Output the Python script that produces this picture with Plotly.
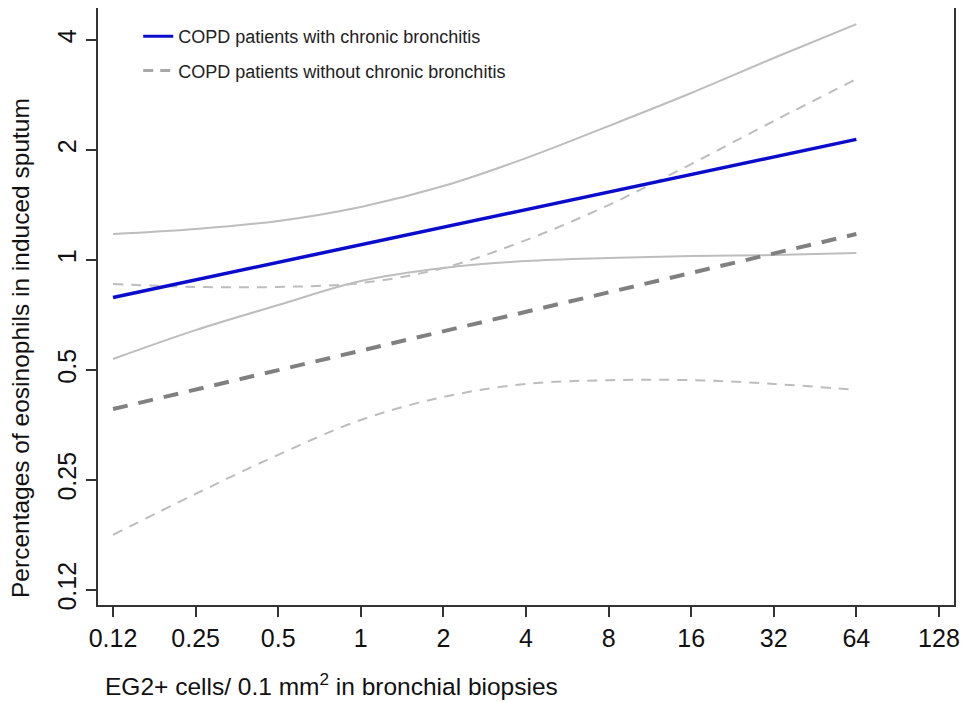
import plotly.graph_objects as go

# EG2+ cells / 0.1 mm2 (x positions of the fitted curves)
x_cells = [0.125, 0.25, 0.5, 1, 2, 4, 8, 16, 32, 64]

# COPD with chronic bronchitis: fit and 95% CI
cb_fit = [0.79, 0.883, 0.986, 1.101, 1.230, 1.374, 1.535, 1.714, 1.915, 2.139]
cb_upper = [1.178, 1.216, 1.279, 1.397, 1.594, 1.901, 2.326, 2.864, 3.571, 4.423]
cb_lower = [0.536, 0.643, 0.753, 0.876, 0.951, 0.994, 1.013, 1.025, 1.032, 1.045]

# COPD without chronic bronchitis: fit and 95% CI
ncb_fit = [0.391, 0.442, 0.499, 0.565, 0.638, 0.721, 0.816, 0.922, 1.042, 1.178]
ncb_upper = [0.860, 0.844, 0.844, 0.865, 0.951, 1.134, 1.414, 1.831, 2.401, 3.128]
ncb_lower = [0.177, 0.229, 0.293, 0.365, 0.422, 0.458, 0.469, 0.469, 0.458, 0.441]

x_tickvals = [0.125, 0.25, 0.5, 1, 2, 4, 8, 16, 32, 64, 128]
x_ticktext = ["0.12", "0.25", "0.5", "1", "2", "4", "8", "16", "32", "64", "128"]
y_tickvals = [0.125, 0.25, 0.5, 1, 2, 4]
y_ticktext = ["0.12", "0.25", "0.5", "1", "2", "4"]

legend_names = ["COPD patients with chronic bronchitis",
                "COPD patients without chronic bronchitis"]
x_title = "EG2+ cells/ 0.1 mm<sup>2</sup> in bronchial biopsies"
y_title = "Percentages of eosinophils in induced sputum"

LIGHT = "#bdbdbd"
DARK = "#808080"
BLUE = "#0b0bcc"
FONT = "Liberation Sans, Arial"

fig = go.Figure()

for arr in (ncb_upper, ncb_lower):
    fig.add_trace(go.Scatter(x=x_cells, y=arr, mode="lines", showlegend=False,
                             line=dict(color=LIGHT, width=2, dash="10px,8px", shape="spline")))
for arr in (cb_upper, cb_lower):
    fig.add_trace(go.Scatter(x=x_cells, y=arr, mode="lines", showlegend=False,
                             line=dict(color=LIGHT, width=2, shape="spline")))

fig.add_trace(go.Scatter(x=x_cells, y=ncb_fit, mode="lines", showlegend=False,
                         line=dict(color=DARK, width=4, dash="15px,11px")))
fig.add_trace(go.Scatter(x=x_cells, y=cb_fit, mode="lines", showlegend=False,
                         line=dict(color=BLUE, width=3.5)))

# legend entries
fig.add_trace(go.Scatter(x=[None], y=[None], mode="lines", name=legend_names[0],
                         legendgroup="a", line=dict(color=BLUE, width=3)))
fig.add_trace(go.Scatter(x=[None], y=[None], mode="lines", name=legend_names[1],
                         legendgroup="b", line=dict(color="#a8a8a8", width=3, dash="10px,7px")))

axis_common = dict(
    type="log", showgrid=False, zeroline=False, showline=True, mirror=True,
    linecolor="#333333", linewidth=1.5, ticks="outside", ticklen=10,
    tickcolor="#333333", tickwidth=1.5, automargin=False,
    tickfont=dict(family=FONT, size=25, color="#111111"),
)

fig.update_xaxes(**axis_common, range=[-0.9578, 2.162],
                 tickvals=x_tickvals, ticktext=x_ticktext)
fig.update_yaxes(**axis_common, range=[-0.9441, 0.6897],
                 tickvals=y_tickvals, ticktext=y_ticktext, tickangle=-90)

fig.add_annotation(text=x_title, xref="paper", yref="paper", x=0.006, y=0,
                   xanchor="left", yanchor="middle", yshift=-79, showarrow=False,
                   font=dict(family=FONT, size=24.5, color="#111111"))
fig.add_annotation(text=y_title, xref="paper", yref="paper", x=0, y=0,
                   xanchor="center", yanchor="bottom", xshift=-78, yshift=5,
                   textangle=-90, showarrow=False,
                   font=dict(family=FONT, size=24.5, color="#111111"))

fig.update_layout(
    width=973, height=702,
    margin=dict(l=90, r=27, t=0, b=105),
    paper_bgcolor="white", plot_bgcolor="white",
    legend=dict(x=0.047, y=0.9833, xanchor="left", yanchor="top",
                bgcolor="rgba(0,0,0,0)", tracegroupgap=8,
                font=dict(family=FONT, size=18, color="#222222")),
)

fig.write_html("out.html")
